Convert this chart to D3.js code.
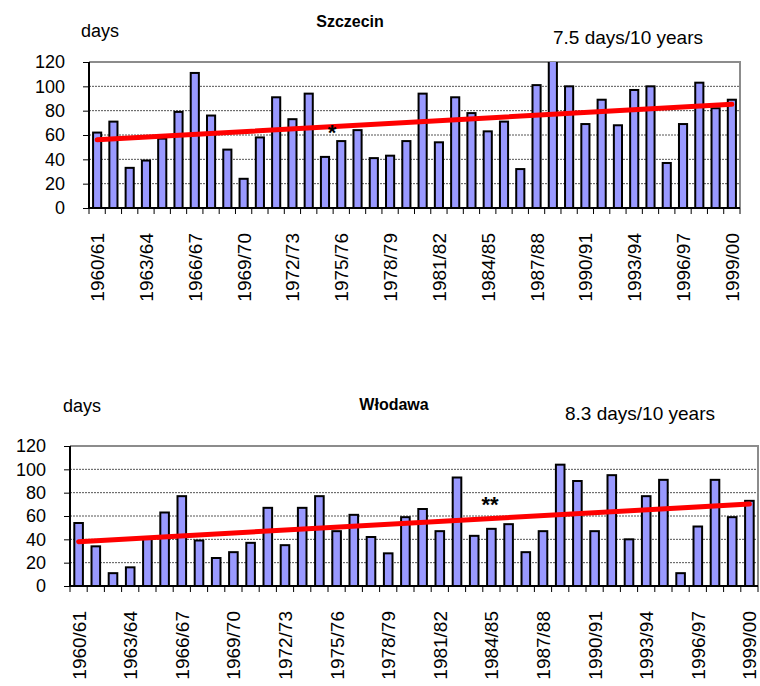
<!DOCTYPE html>
<html>
<head>
<meta charset="utf-8">
<script src="https://cdn.jsdelivr.net/npm/d3@7"></script>
<style>
  body { margin: 0; background: #fff; }
  svg { display: block; font-family: "Liberation Sans", Arial, sans-serif; }
</style>
</head>
<body>
<svg id="chart" width="760" height="686"></svg>
<script>
// seasons (shared by both stations)
const seasons = [
  '1960/61', '1961/62', '1962/63', '1963/64', '1964/65', '1965/66', '1966/67', '1967/68',
  '1968/69', '1969/70', '1970/71', '1971/72', '1972/73', '1973/74', '1974/75', '1975/76',
  '1976/77', '1977/78', '1978/79', '1979/80', '1980/81', '1981/82', '1982/83', '1983/84',
  '1984/85', '1985/86', '1986/87', '1987/88', '1988/89', '1989/90', '1990/91', '1991/92',
  '1992/93', '1993/94', '1994/95', '1995/96', '1996/97', '1997/98', '1998/99', '1999/00'
];
// every third season gets a label
const shownSeasons = seasons.filter((d, i) => i % 3 === 0);
const yTicks = [0, 20, 40, 60, 80, 100, 120];

// number of days per season
const szczecinDays = [
  62, 71, 33, 39, 57, 79, 111, 76, 48, 24, 58, 91, 73, 94, 42, 55, 64, 41, 43, 55,
  94, 54, 91, 78, 63, 71, 32, 101, 123, 100, 69, 89, 68, 97, 100, 37, 69, 103, 82, 89
];
const wlodawaDays = [
  54, 34, 11, 16, 41, 63, 77, 39, 24, 29, 37, 67, 35, 67, 77, 47, 61, 42, 28, 59,
  66, 47, 93, 43, 49, 53, 29, 47, 104, 90, 47, 95, 40, 77, 91, 11, 51, 91, 59, 73
];

const svg = d3.select('#chart');

// simple least squares over the index
function trend(values) {
  const n = values.length;
  const mx = (n - 1) / 2;
  const my = d3.mean(values);
  let sxy = 0, sxx = 0;
  values.forEach((v, i) => { sxy += (i - mx) * (v - my); sxx += (i - mx) * (i - mx); });
  const b = sxy / sxx;
  return [my - b * mx, my + b * (n - 1 - mx)];
}

function drawPanel(p) {
  const x = d3.scaleBand().domain(seasons).range([p.left, p.right]).paddingInner(0.5).paddingOuter(0.25);
  const y = d3.scaleLinear().domain([0, 120]).range([p.zero, p.top]);
  const g = svg.append('g');

  // clip so bars above 120 stop at the frame
  g.append('clipPath').attr('id', 'clip-' + p.id)
    .append('rect')
    .attr('x', p.left).attr('y', p.top)
    .attr('width', p.right - p.left).attr('height', p.zero - p.top);

  // gridlines
  g.selectAll('.grid')
    .data(yTicks.filter(t => t > 0 && t < 120))
    .join('line')
    .attr('x1', p.left).attr('x2', p.right)
    .attr('y1', d => y(d)).attr('y2', d => y(d))
    .attr('stroke', '#555').attr('stroke-width', 1).attr('stroke-dasharray', '2,1');

  // frame top and right (grey)
  g.append('path')
    .attr('d', `M${p.left},${y(120)}H${p.right}V${y(0)}`)
    .attr('fill', 'none').attr('stroke', '#8c8c8c').attr('stroke-width', 2);

  // bars
  g.append('g').attr('clip-path', `url(#clip-${p.id})`)
    .selectAll('rect')
    .data(p.values)
    .join('rect')
    .attr('x', (d, i) => x(seasons[i]))
    .attr('y', d => y(d))
    .attr('width', x.bandwidth())
    .attr('height', d => y(0) - y(d))
    .attr('fill', '#9999ff')
    .attr('stroke', '#000')
    .attr('stroke-width', 2);

  // trend line
  const t = trend(p.values);
  const half = x.bandwidth() / 2;
  g.append('line')
    .attr('x1', x(seasons[0]) + half).attr('y1', y(t[0]))
    .attr('x2', x(seasons[seasons.length - 1]) + half).attr('y2', y(t[1]))
    .attr('stroke', '#ff0000').attr('stroke-width', 5).attr('stroke-linecap', 'round');

  // y axis
  const yAxis = g.append('g')
    .attr('transform', `translate(${p.left},0)`)
    .call(d3.axisLeft(y).tickValues(yTicks).tickSize(6).tickPadding(18));
  yAxis.select('.domain').remove();
  yAxis.append('line').attr('x1', 0).attr('x2', 0).attr('y1', y(0)).attr('y2', y(120))
    .attr('stroke', '#000').attr('stroke-width', 2);
  yAxis.selectAll('.tick line').attr('stroke', '#000');
  yAxis.selectAll('text').attr('font-size', 18).attr('fill', '#000')
    .attr('font-family', '"Liberation Sans", Arial, sans-serif');

  // x axis: ticks between categories
  const step = x.step();
  const edges = seasons.map((s, i) => p.left + i * step).concat([p.right]);
  g.append('line').attr('x1', p.left).attr('x2', p.right)
    .attr('y1', y(0)).attr('y2', y(0)).attr('stroke', '#000').attr('stroke-width', 2);
  g.selectAll('.xtick')
    .data(edges)
    .join('line')
    .attr('x1', d => d).attr('x2', d => d)
    .attr('y1', y(0)).attr('y2', y(0) + 6)
    .attr('stroke', '#000').attr('stroke-width', 1);

  g.selectAll('.xlab')
    .data(shownSeasons)
    .join('text')
    .attr('transform', d => `translate(${x(d) + half + 7},${y(0) + 25}) rotate(-90)`)
    .attr('text-anchor', 'end')
    .attr('font-size', 19)
    .text(d => d);

  // texts
  g.append('text').attr('x', p.daysX).attr('y', p.daysY).attr('font-size', 18).text('days');
  g.append('text').attr('x', p.titleX).attr('y', p.titleY).attr('font-size', 16)
    .attr('font-weight', 'bold').attr('text-anchor', 'middle').text(p.title);
  g.append('text').attr('x', p.rateX).attr('y', p.rateY).attr('font-size', 19).text(p.rate);
  g.append('text').attr('x', p.starX).attr('y', p.starY).attr('font-size', 22)
    .attr('font-weight', 'bold').attr('text-anchor', 'middle').text(p.star);
}

drawPanel({
  id: 'szczecin', values: szczecinDays, title: 'Szczecin', rate: '7.5 days/10 years', star: '*',
  left: 89, right: 740, top: 62, zero: 208,
  daysX: 81, daysY: 37, titleX: 350, titleY: 27, rateX: 553, rateY: 44, starX: 332, starY: 140
});

drawPanel({
  id: 'wlodawa', values: wlodawaDays, title: 'Włodawa', rate: '8.3 days/10 years', star: '**',
  left: 70, right: 758, top: 446, zero: 586,
  daysX: 63, daysY: 412, titleX: 394, titleY: 410, rateX: 565, rateY: 420, starX: 490, starY: 512
});
</script>
</body>
</html>
